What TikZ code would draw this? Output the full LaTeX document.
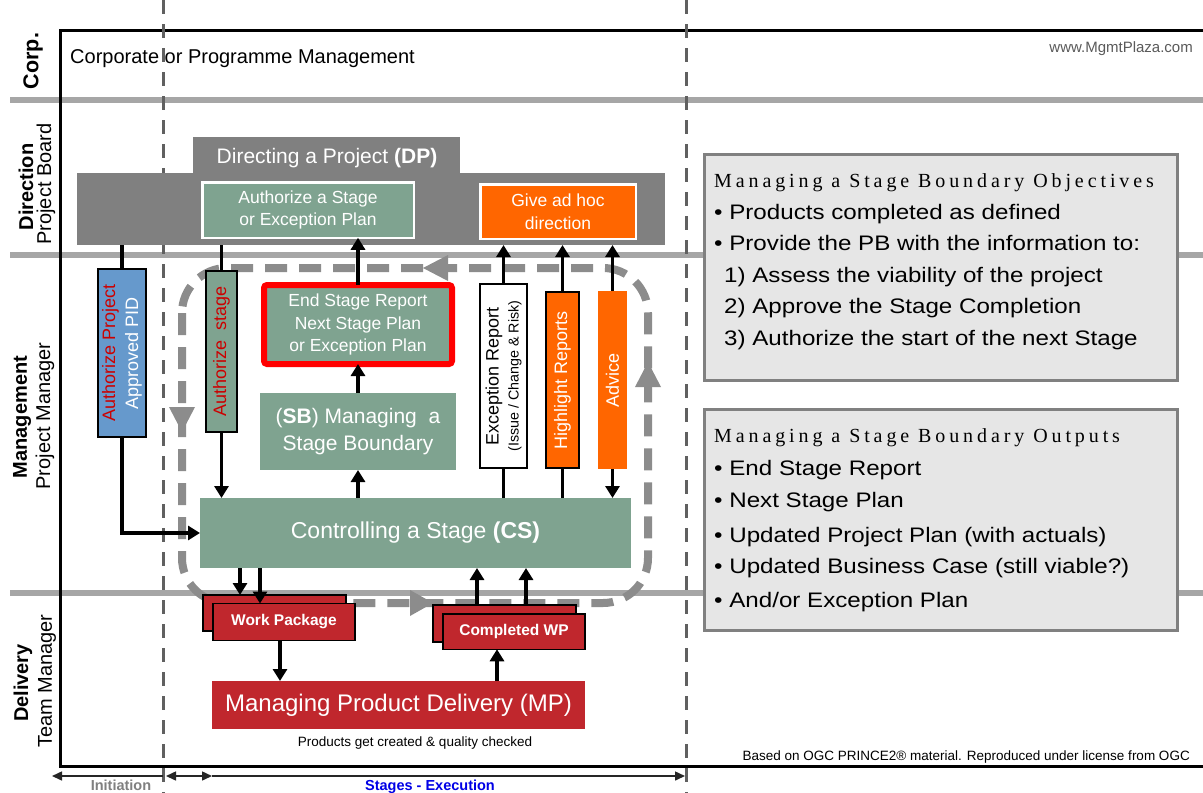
\documentclass[tikz,border=0pt]{standalone}
\usepackage{fontspec}
\setmainfont{Liberation Sans}
\newfontfamily\ttlfont[LetterSpace=19.5]{Liberation Serif}
\newfontfamily\bulfont[FakeStretch=1.15]{Liberation Sans}
\usetikzlibrary{arrows.meta}
\definecolor{lanegray}{RGB}{166,166,166}
\definecolor{dashgray}{RGB}{96,96,96}
\definecolor{dpgray}{RGB}{128,128,128}
\definecolor{pgreen}{RGB}{127,163,144}
\definecolor{porange}{RGB}{255,102,0}
\definecolor{pblue}{RGB}{102,153,204}
\definecolor{pred}{RGB}{192,39,45}
\definecolor{txtred}{RGB}{204,0,0}
\definecolor{boxfill}{RGB}{230,230,230}
\definecolor{boxline}{RGB}{128,128,128}
\definecolor{loopgray}{RGB}{140,140,140}
\definecolor{stageblue}{RGB}{0,0,230}
\definecolor{urlgray}{RGB}{90,90,90}
\newcommand{\fsz}[2]{\fontsize{#1}{#2}\selectfont}
\begin{document}
\begin{tikzpicture}[x=1pt,y=-1pt,
  box/.style={inner sep=0pt, outer sep=0pt, align=center},
  arr/.style={line width=3.5pt, -{Triangle[width=14pt,length=12pt]}},
  ln/.style={line width=3.5pt},
  tline/.style={line width=1.5pt, black!85},
  lanetxt/.style={rotate=90, inner sep=0pt, font={\fsz{20}{24}}},
  bul/.style={anchor=base west, inner sep=0pt, font={\bulfont\fsz{21}{25}}},
  ttl/.style={anchor=base west, inner sep=0pt, font={\ttlfont\fsz{20}{24}}},
  wp/.style={box, fill=pred, draw=black, line width=1.5pt}
]
\useasboundingbox (0,0) rectangle (1203,793);
\fill[white] (0,0) rectangle (1203,793);

% lanes
\draw[lanegray, line width=6pt] (10,100) -- (1203,100);
\draw[lanegray, line width=6pt] (10,255) -- (1203,255);
\draw[lanegray, line width=6pt] (10,593) -- (1203,593);
\draw[black, line width=3pt] (1203,30) -- (60,30) -- (60,766) -- (1203,766);
\draw[dashgray, line width=3pt, dash pattern=on 14pt off 10pt] (163,0) -- (163,793);
\draw[dashgray, line width=3pt, dash pattern=on 14pt off 10pt] (686,0) -- (686,793);

% lane labels
\node[lanetxt, font={\fsz{21.5}{24}\bfseries}] (lcorp) at (33,61) {Corp.};
\node[lanetxt, font={\fsz{20}{24}\bfseries}] (ldir) at (26,187) {Direction};
\node[lanetxt] (lpb) at (46,184) {Project Board};
\node[lanetxt, font={\fsz{20}{24}\bfseries}] (lman) at (22,417) {Management};
\node[lanetxt] (lpm) at (45,416) {Project Manager};
\node[lanetxt, font={\fsz{20}{24}\bfseries}] (ldel) at (23,683) {Delivery};
\node[lanetxt] (ltm) at (47,681) {Team Manager};

\node[anchor=base west, inner sep=0pt, font={\fsz{20}{24}}] (corp) at (70,63) {Corporate or Programme Management};
\node[anchor=base east, inner sep=0pt, font={\fsz{15}{18}}, text=urlgray] (url) at (1193,52) {www.MgmtPlaza.com};

% stage loop
\draw[loopgray, line width=8pt, dash pattern=on 22pt off 12pt, rounded corners=45pt] (182,268) rectangle (648,603);
\fill[loopgray] (423,268) -- (448,255) -- (448,281) -- cycle;
\fill[loopgray] (182,432) -- (169,407) -- (195,407) -- cycle;
\fill[loopgray] (648,362) -- (635,387) -- (661,387) -- cycle;
\fill[loopgray] (433,603) -- (410,590) -- (410,616) -- cycle;

% Directing a Project
\node[box, fill=dpgray, minimum width=267pt, minimum height=36pt] (dpt) at (326.5,155) {};
\node[box, fill=dpgray, minimum width=588pt, minimum height=72pt] (dpm) at (371,209) {};
\node[inner sep=0pt, text=white, font={\fsz{21}{25}}] (dptext) at (327,158) {Directing a Project \textbf{(DP)}};
\node[box, fill=pgreen, draw=white, line width=2.5pt, minimum width=211.5pt, minimum height=55.5pt, text=white, font={\fsz{17.5}{22.5}}] (auth) at (308,210) {Authorize a Stage\\or Exception Plan};
\node[box, fill=porange, draw=white, line width=2.5pt, minimum width=155.5pt, minimum height=54.5pt, text=white, font={\fsz{17.5}{23}}] (adhoc) at (558,211.5) {Give ad hoc\\direction};

% Management lane
\node[box, rotate=90, fill=pblue, draw=black, line width=2pt, minimum width=168pt, minimum height=48pt, font={\fsz{18}{23}}] (authproj) at (122,353) {\textcolor{txtred}{Authorize Project}\\\textcolor{white}{Approved PID}};
\node[box, rotate=90, fill=pgreen, draw=black, line width=2pt, minimum width=161pt, minimum height=31pt, text=txtred, font={\fsz{18}{22}}] (authstage) at (221.5,351.5) {Authorize\ \ stage};
\node[box, fill=pgreen, draw=red, line width=6pt, rounded corners=3pt, minimum width=188pt, minimum height=79pt, text=white, font={\fsz{17.5}{22.5}}] (esr) at (358,324.5) {End Stage Report\\Next Stage Plan\\or Exception Plan};
\node[box, fill=pgreen, minimum width=196pt, minimum height=77pt, text=white, font={\fsz{21}{27}}] (sb) at (358,431.5) {(\textbf{SB}) Managing\ \ a\\Stage Boundary};
\node[box, rotate=90, fill=white, draw=black, line width=2pt, minimum width=184pt, minimum height=47pt, font={\fsz{18}{21}}] (excrep) at (503.5,376) {Exception Report\\[-1pt]{\fsz{14.3}{17}(Issue / Change \& Risk)}};
\node[box, rotate=90, fill=porange, draw=black, line width=2pt, minimum width=176pt, minimum height=33pt, text=white, font={\fsz{18}{22}}] (highlight) at (562.5,380) {Highlight Reports};
\node[box, rotate=90, fill=porange, minimum width=178pt, minimum height=29pt, text=white, font={\fsz{18}{22}}] (advice) at (612.5,380) {Advice};
\node[box, fill=pgreen, minimum width=431pt, minimum height=70pt, text=white, font={\fsz{23}{27}}] (cs) at (415.5,533) {Controlling a Stage \textbf{(CS)}};

% Delivery lane
\node[wp, minimum width=143pt, minimum height=36pt] (wpback) at (274.5,613) {};
\node[wp, minimum width=142pt, minimum height=37pt, text=white, font={\fsz{15.5}{18}\bfseries}] (wpfront) at (284,622) {Work Package};
\node[wp, minimum width=143pt, minimum height=37pt] (cwpback) at (504.5,623.5) {};
\node[wp, minimum width=142pt, minimum height=35.5pt, text=white, font={\fsz{15.5}{18}\bfseries}] (cwpfront) at (514,631.5) {Completed WP};
\node[box, fill=pred, minimum width=373pt, minimum height=48pt, text=white, font={\fsz{24}{28}}] (mp) at (398.5,705) {Managing Product Delivery (MP)};
\node[anchor=base, inner sep=0pt, font={\fsz{13.5}{16}}] (prod) at (415,746) {Products get created \& quality checked};

% connectors
\draw[ln] (authproj.east) -- (authproj.east |- dpm.south);
\draw[arr] (authproj.west) |- (cs.west);
\draw[ln] (authstage.east) -- (authstage.east |- dpm.south);
\draw[arr] (authstage.west) -- (authstage.west |- cs.north);
\draw[arr] (esr.north) -- (esr.north |- auth.south);
\draw[arr] (sb.north) -- (esr.south);
\draw[arr] (sb.south |- cs.north) -- (sb.south);
\draw[ln] (excrep.west |- cs.north) -- (excrep.west);
\draw[arr] (excrep.east) -- (excrep.east |- dpm.south);
\draw[ln] (highlight.west |- cs.north) -- (highlight.west);
\draw[arr] (highlight.east) -- (highlight.east |- dpm.south);
\draw[arr] (advice.east) -- (advice.east |- dpm.south);
\draw[arr] (advice.west) -- (advice.west |- cs.north);
\draw[arr] (cs.south -| 240,0) -- (wpback.north -| 240,0);
\draw[arr] (cs.south -| 260,0) -- (wpfront.north -| 260,0);
\draw[arr] (cwpback.north -| 477,0) -- (cs.south -| 477,0);
\draw[arr] (cwpback.north -| 526,0) -- (cs.south -| 526,0);
\draw[arr] (wpfront.south -| 280,0) -- (mp.north -| 280,0);
\draw[arr] (mp.north -| 497,0) -- (cwpfront.south -| 497,0);

% right info boxes
\node[box, fill=boxfill, draw=boxline, line width=3pt, minimum width=473pt, minimum height=226pt] (objbox) at (941,267.5) {};
\node[ttl] (o0) at (714,187) {Managing a Stage Boundary Objectives};
\node[bul] (o1) at (714,219) {• Products completed as defined};
\node[bul] (o2) at (714,250) {• Provide the PB with the information to:};
\node[bul] (o3) at (724,282) {1) Assess the viability of the project};
\node[bul] (o4) at (724,313) {2) Approve the Stage Completion};
\node[bul] (o5) at (724,345) {3) Authorize the start of the next Stage};

\node[box, fill=boxfill, draw=boxline, line width=3pt, minimum width=473pt, minimum height=221pt] (outbox) at (941,520) {};
\node[ttl] (p0) at (714,442) {Managing a Stage Boundary Outputs};
\node[bul] (p1) at (714,475) {• End Stage Report};
\node[bul] (p2) at (714,507) {• Next Stage Plan};
\node[bul] (p3) at (714,542) {• Updated Project Plan (with actuals)};
\node[bul] (p4) at (714,573) {• Updated Business Case (still viable?)};
\node[bul] (p5) at (714,607) {• And/or Exception Plan};

\node[anchor=base east, inner sep=0pt, font={\fsz{13.5}{16}}] (based) at (1190,760) {Based on OGC PRINCE2® material. Reproduced under license from OGC};

% timeline
\coordinate (t0) at (52,776);
\coordinate (t1) at (163,776);
\coordinate (t2) at (166,776);
\coordinate (t3) at (212,776);
\coordinate (t4) at (685,776);
\draw[tline, {Triangle[width=9pt,length=10pt]}-] (t0) -- (t1);
\draw[tline, {Triangle[width=9pt,length=10pt]}-{Triangle[width=9pt,length=10pt]}] (t2) -- (t3);
\draw[tline, -{Triangle[width=9pt,length=10pt]}] (t3) -- (t4);
\node[anchor=base, inner sep=0pt, text=dpgray, font={\fsz{14.5}{17}\bfseries}] (init) at (121,790) {Initiation};
\node[anchor=base, inner sep=0pt, text=stageblue, font={\fsz{14.5}{17}\bfseries}] (exec) at (430,790) {Stages - Execution};
\end{tikzpicture}
\end{document}
